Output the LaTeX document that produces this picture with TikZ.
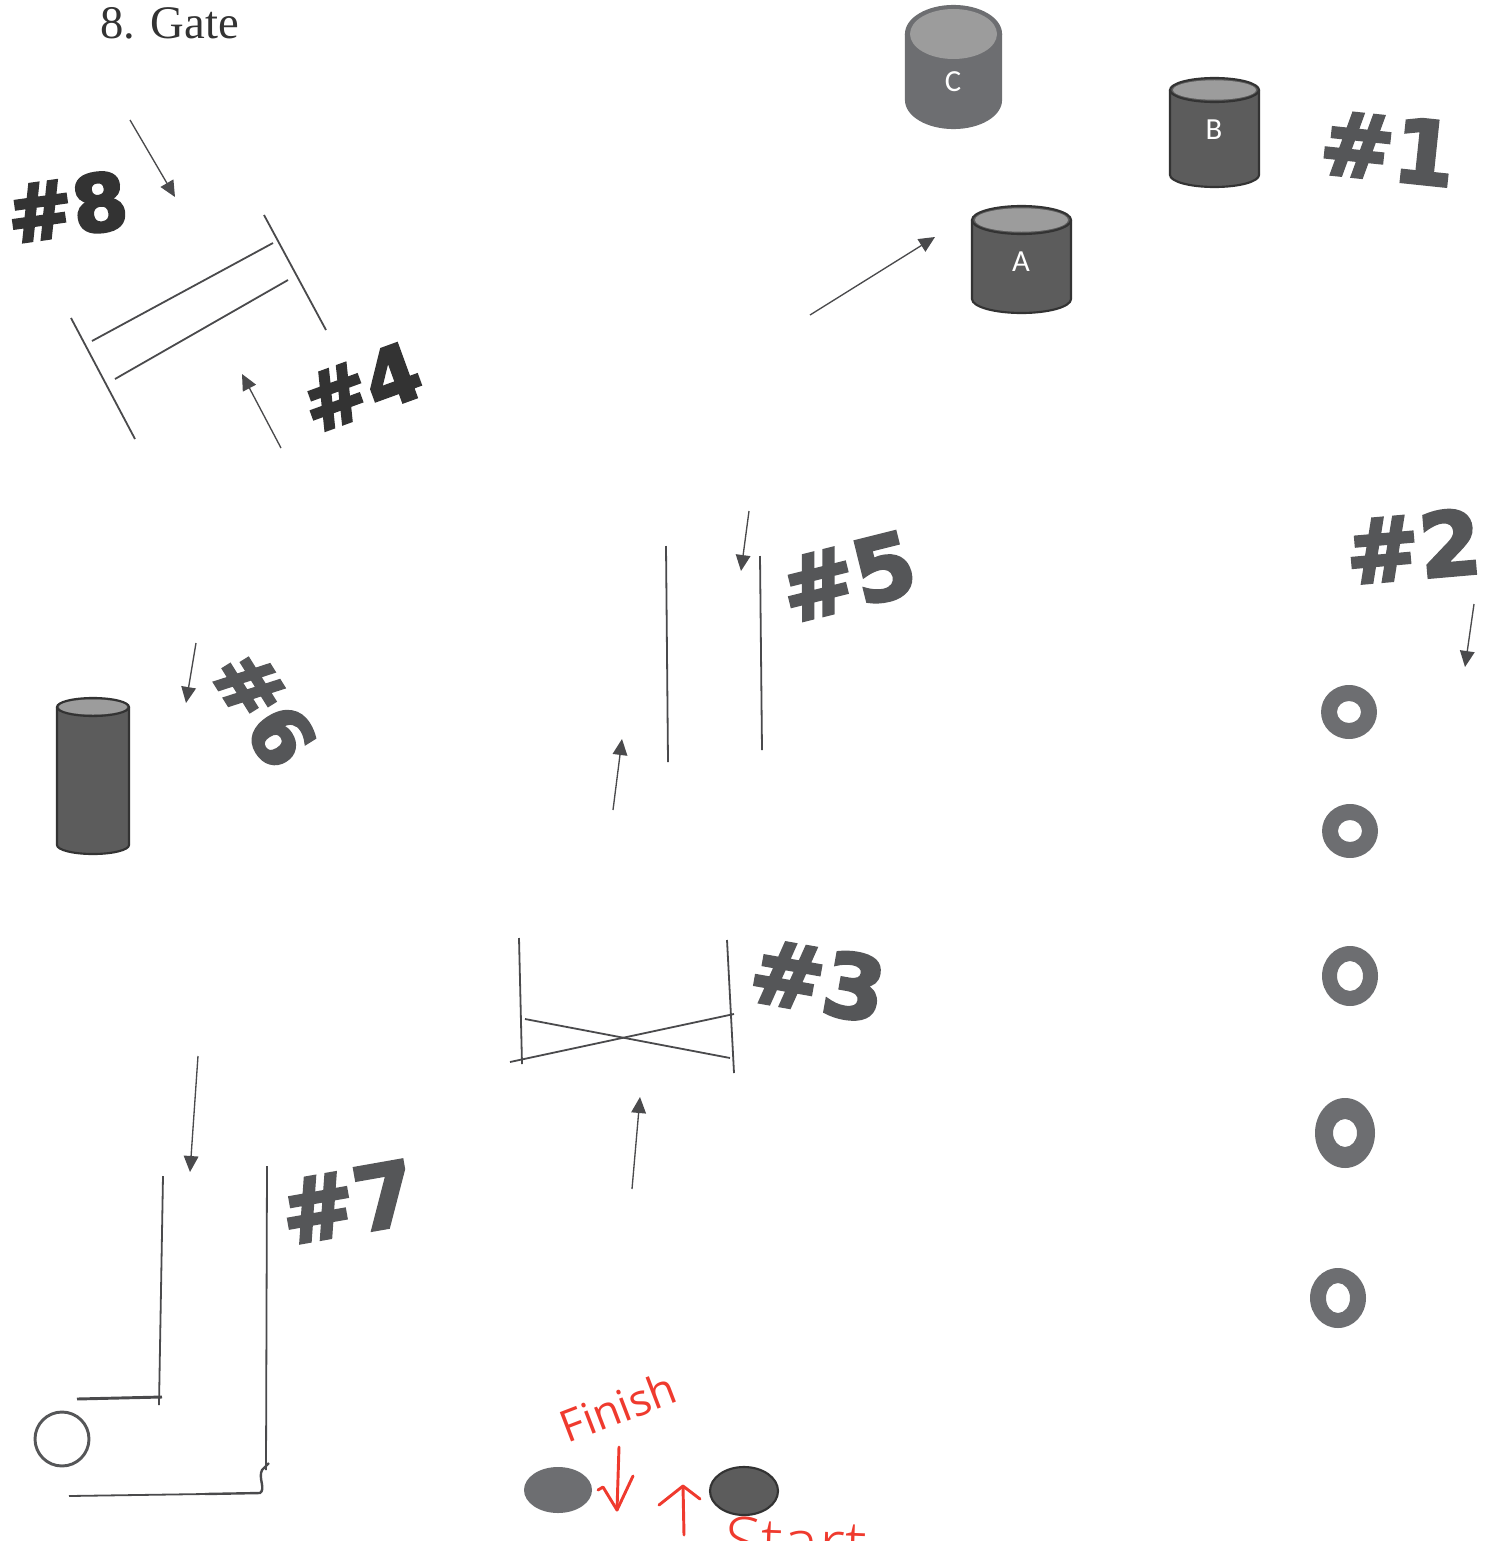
\documentclass[tikz,border=0pt]{standalone}
\usepackage{fontspec}
\setmainfont{Liberation Serif}
\newfontfamily\handfont[FakeBold=3.5]{DejaVu Sans Bold}
\newfontfamily\drumfont{Carlito}
\newfontfamily\redfont{Open Sans}
\newfontfamily\redlight{Open Sans Light}
\definecolor{inkdark}{HTML}{333333}
\definecolor{inkmid}{HTML}{555658}
\definecolor{linegray}{HTML}{4A4A4C}
\definecolor{bodyflat}{HTML}{6D6E71}
\definecolor{bodyrough}{HTML}{5C5C5C}
\definecolor{toplight}{HTML}{9C9C9C}
\definecolor{redpen}{HTML}{EF3A2E}
\usetikzlibrary{arrows.meta}
\tikzset{
  thinline/.style={draw=linegray,line width=1.35pt},
  arrowline/.style={draw=linegray,line width=1pt,-{Triangle[length=12pt,width=11pt]}},
  handlabel/.style={font=\handfont\fontsize{66}{66}\selectfont,inner sep=0pt},
  handsmall/.style={font=\handfont\fontsize{59}{59}\selectfont,inner sep=0pt},
  handdark/.style={handlabel,text=inkdark},
  handmid/.style={handlabel,text=inkmid},
  drumletter/.style={font=\drumfont\fontsize{23}{23}\selectfont,text=white,inner sep=0pt},
  ringshape/.style={fill=bodyflat,even odd rule},
  redstroke/.style={draw=redpen,line width=2.2pt,line cap=round,line join=round},
}
% #1 left x, #2 right x, #3 top centre y, #4 ry, #5 bottom centre y, #6 body, #7 edge, #8 inset
\newcommand\drumshape[8]{
  \pgfmathsetmacro\drumcx{(#1+#2)/2}
  \pgfmathsetmacro\drumrx{(#2-#1)/2}
  \pgfmathsetmacro\drumix{\drumrx-#8}
  \pgfmathsetmacro\drumiy{#4-#8*0.75}
  \fill[#6] (\drumcx,#5) ellipse [x radius=\drumrx,y radius=#4];
  \fill[#6] (#1,#3) rectangle (#2,#5);
  \fill[#6] (\drumcx,#3) ellipse [x radius=\drumrx,y radius=#4];
  \draw[#7,line width=1.6pt] (#1,#3) -- (#1,#5) arc [start angle=180,end angle=0,x radius=\drumrx,y radius=#4] -- (#2,#3);
  \draw[#7,line width=1.6pt] (\drumcx,#3) ellipse [x radius=\drumrx,y radius=#4];
  \fill[toplight] (\drumcx,#3) ellipse [x radius=\drumix,y radius=\drumiy];
}
\begin{document}
\begin{tikzpicture}[x=0.75pt,y=-0.75pt]
\useasboundingbox (0,0) rectangle (1491,1545);

% title
\node[anchor=base west,inner sep=0pt,font=\fontsize{35}{36}\selectfont,text=inkdark] (title) at (100,39) {8. Gate};

% drums
\drumshape{906}{1001}{34}{28}{100}{bodyflat}{bodyflat}{4}
\drumshape{1170}{1259}{90}{12}{175}{bodyrough}{inkdark}{3}
\drumshape{972}{1071}{220}{14}{299}{bodyrough}{inkdark}{3}
\drumshape{57}{129}{707}{9}{845}{bodyrough}{inkdark}{2}
\node[drumletter] (letterC) at (953,82) {C};
\node[drumletter] (letterB) at (1214,130) {B};
\node[drumletter] (letterA) at (1021,262) {A};

% hand-written numbers
\node[handsmall,text=inkdark,rotate=8] (num8) at (67,207) {\#8};
\node[handsmall,text=inkdark,rotate=20] (num4) at (361,387) {\#4};
\node[handmid,rotate=-6] (num1) at (1388,148) {\#1};
\node[handmid,rotate=5] (num2) at (1413,546) {\#2};
\node[handmid,rotate=14] (num5) at (848,577) {\#5};
\node[handsmall,text=inkmid,rotate=-58] (num6) at (264,708) {\#6};
\node[handmid,rotate=-10] (num3) at (818,980) {\#3};
\node[handmid,rotate=10] (num7) at (348,1202) {\#7};

% arrows
\coordinate (a1s) at (130,120); \coordinate (a1e) at (175,197);
\coordinate (a2s) at (281,448); \coordinate (a2e) at (242,374);
\coordinate (a3s) at (810,315); \coordinate (a3e) at (935,237);
\coordinate (a4s) at (749,511); \coordinate (a4e) at (741,571);
\coordinate (a5s) at (613,810); \coordinate (a5e) at (622,739);
\coordinate (a6s) at (196,643); \coordinate (a6e) at (186,703);
\coordinate (a7s) at (198,1056); \coordinate (a7e) at (190,1172);
\coordinate (a8s) at (632,1189); \coordinate (a8e) at (640,1097);
\coordinate (a9s) at (1474,604); \coordinate (a9e) at (1465,667);
\foreach \i in {1,...,9} \draw[arrowline] (a\i s) -- (a\i e);

% gate 8 / 4
\draw[thinline] (264,215) -- (326,330);
\draw[thinline] (71,318) -- (135,439);
\draw[thinline] (92,341) -- (273,243);
\draw[thinline] (115,379) -- (288,280);
% gate 5
\draw[thinline] (666,546) -- (668,762);
\draw[thinline] (760,556) -- (762,750);
% gate 3
\draw[thinline] (519,938) -- (522,1064);
\draw[thinline] (727,940) -- (734,1073);
\draw[thinline] (525,1019) -- (730,1058);
\draw[thinline] (510,1062) -- (734,1014);
% gate 7
\draw[thinline] (163,1176) -- (159,1405);
\draw[thinline] (267,1166) -- (266,1470);
\draw[draw=linegray,line width=2.2pt] (77,1399) -- (162,1397);
\draw[thinline] (69,1496) -- (205,1494);
\draw[draw=linegray,line width=1.8pt] (205,1494) -- (260,1493) .. controls (266,1489) and (258,1478) .. (262,1470) -- (269,1463);
\node[circle,draw=inkmid,line width=2.2pt,minimum size=40.5pt,inner sep=0pt] (ball) at (62,1439) {};

% rings
\fill[ringshape] (1349,712) ellipse [x radius=28,y radius=27] (1349,712) ellipse [x radius=12,y radius=11];
\fill[ringshape] (1350,831) ellipse [x radius=28,y radius=27] (1350,831) ellipse [x radius=12,y radius=11];
\fill[ringshape] (1350,976) ellipse [x radius=28,y radius=30] (1350,976) ellipse [x radius=13,y radius=15];
\fill[ringshape] (1345,1133) ellipse [x radius=30,y radius=35] (1345,1133) ellipse [x radius=12,y radius=14];
\fill[ringshape] (1338,1298) ellipse [x radius=28,y radius=30] (1338,1298) ellipse [x radius=12,y radius=15];

% finish and start discs
\fill[bodyflat] (558,1490) ellipse [x radius=34,y radius=23];
\draw[draw=inkdark,fill=bodyrough,line width=1.6pt] (744,1491) ellipse [x radius=34,y radius=24];

% red pen
\node[font=\redfont\fontsize{33}{33}\selectfont,text=redpen,rotate=21,inner sep=0pt] (finish) at (618,1407) {Finish};
\coordinate (f1) at (619,1447); \coordinate (f2) at (617,1510);
\coordinate (f3) at (598,1490); \coordinate (f4) at (603,1487); \coordinate (f5) at (633,1476);
\draw[redstroke] (f1) -- (f2);
\draw[redstroke] (f3) -- (f4) -- (f2) -- (f5);
\coordinate (s1) at (684,1535); \coordinate (s2) at (683,1486);
\coordinate (s3) at (659,1505); \coordinate (s4) at (700,1499);
\draw[redstroke] (s1) -- (s2);
\draw[redstroke] (s3) -- (s2) -- (s4);
\begin{scope}
\clip (700,1500) rectangle (900,1540);
\node[font=\redlight\fontsize{50}{50}\selectfont,text=redpen,anchor=base west,inner sep=0pt,rotate=-2] (start) at (724,1564) {Start};
\end{scope}
\end{tikzpicture}
\end{document}
